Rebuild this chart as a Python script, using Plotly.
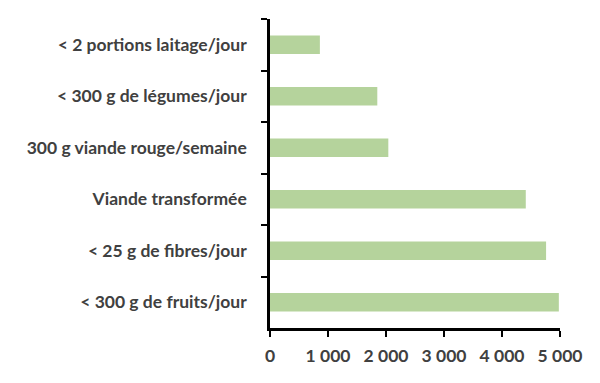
import plotly.graph_objects as go

categories = ["< 2 portions laitage/jour", "< 300 g de légumes/jour", "300 g viande rouge/semaine",
              "Viande transformée", "< 25 g de fibres/jour", "< 300 g de fruits/jour"]
values = [860, 1850, 2040, 4410, 4760, 4980]
x_tickvals = [0, 1000, 2000, 3000, 4000, 5000]
x_ticktext = ["0", "1 000", "2 000", "3 000", "4 000", "5 000"]

fig = go.Figure(go.Bar(
    y=categories, x=values, orientation="h",
    marker=dict(color="#b5d39c", line=dict(width=0)),
))

font = dict(family="Lato, 'Open Sans', sans-serif", size=17.5, color="#404040", weight="bold")

# page body has an 8px default margin; figure sized to compensate
fig.update_layout(
    width=592, height=375,
    margin=dict(l=262, r=40, t=11, b=55),
    plot_bgcolor="white", paper_bgcolor="white",
    bargap=0.64, showlegend=False,
    font=font,
)
fig.update_xaxes(
    range=[0, 5000], tickvals=x_tickvals, ticktext=x_ticktext,
    showline=True, linecolor="black", linewidth=2.5,
    ticks="outside", ticklen=6, tickwidth=2, tickcolor="black",
    showgrid=False, zeroline=False, tickfont=font, automargin=False,
    ticklabelstandoff=4,
)
fig.update_yaxes(
    categoryorder="array", categoryarray=categories, autorange="reversed",
    showline=True, linecolor="black", linewidth=2.5,
    ticks="outside", ticklen=6, tickwidth=2, tickcolor="black",
    tickson="boundaries", ticklabelstandoff=17,
    showgrid=False, tickfont=font, automargin=False,
)

fig.write_html("out.html")
